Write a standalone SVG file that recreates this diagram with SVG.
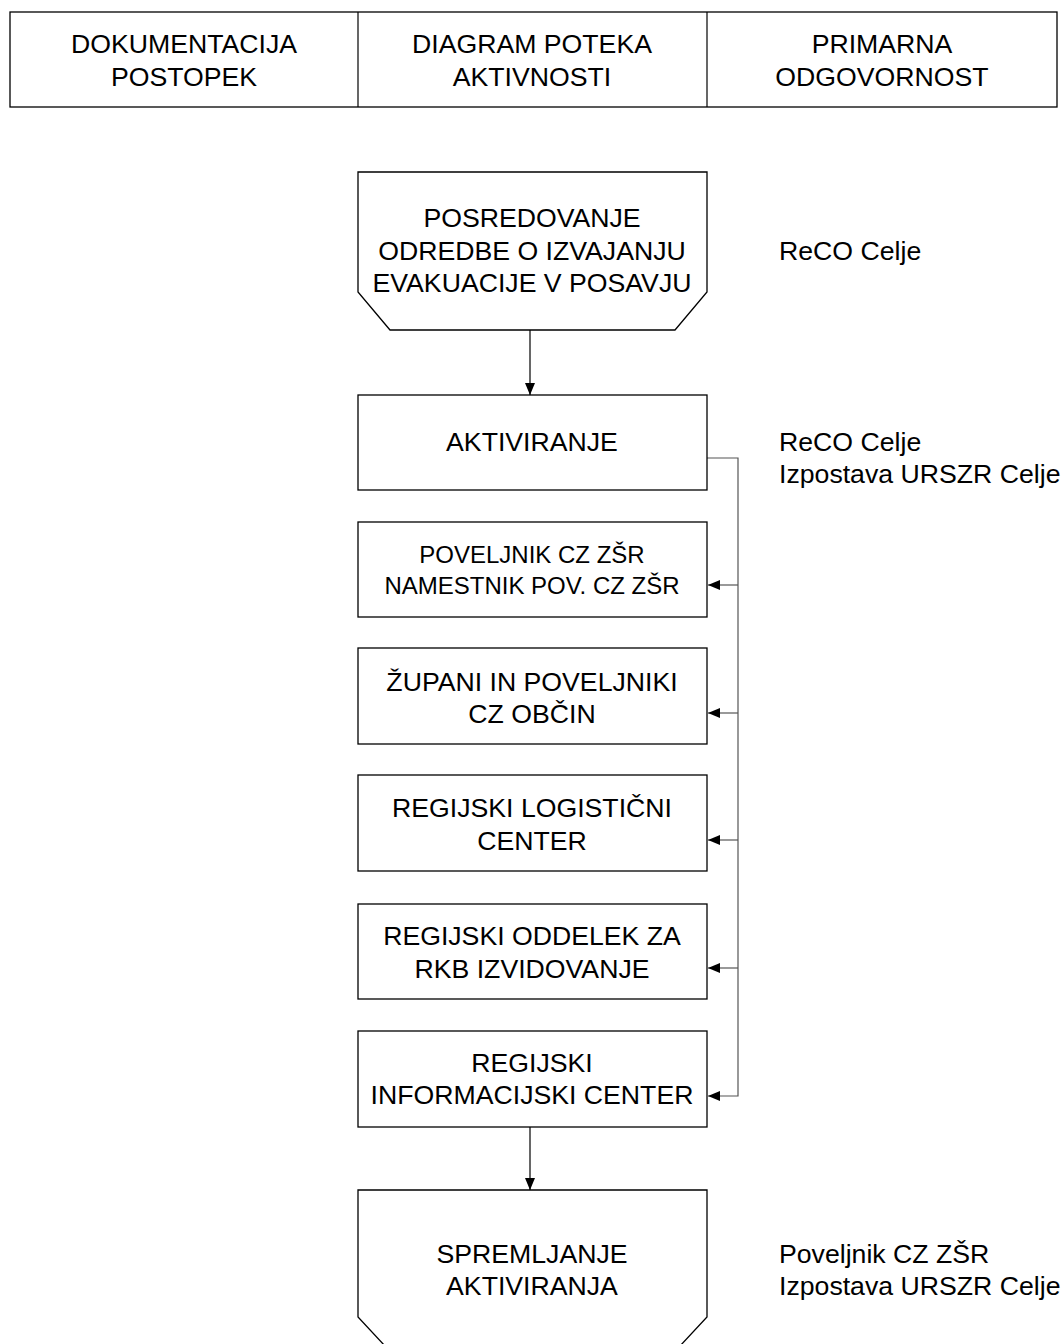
<svg xmlns="http://www.w3.org/2000/svg" width="1064" height="1344" viewBox="0 0 1064 1344">
<style>
.box{fill:#fff;stroke:#000;stroke-width:1.3}
.t{font-family:"Liberation Sans",Arial,sans-serif;font-size:26.67px;fill:#000;text-anchor:middle}
.s{font-size:24px}
.l{font-family:"Liberation Sans",Arial,sans-serif;font-size:26.67px;fill:#000}
.c{fill:none;stroke:#000;stroke-width:1.2}
.g{fill:none;stroke:#555;stroke-width:1.2}
</style>
<defs>
<marker id="ah" markerWidth="12" markerHeight="10" refX="12" refY="5" orient="auto" markerUnits="userSpaceOnUse">
<path d="M0,0 L12,5 L0,10 Z" fill="#000"/>
</marker>
</defs>
<g id="header">
<rect class="box" x="10" y="12" width="1047" height="95"/>
<line class="c" x1="358" y1="12" x2="358" y2="107"/>
<line class="c" x1="707" y1="12" x2="707" y2="107"/>
<text class="t" x="184" y="53">DOKUMENTACIJA</text>
<text class="t" x="184" y="86">POSTOPEK</text>
<text class="t" x="532" y="53">DIAGRAM POTEKA</text>
<text class="t" x="532" y="86">AKTIVNOSTI</text>
<text class="t" x="882" y="53">PRIMARNA</text>
<text class="t" x="882" y="86">ODGOVORNOST</text>
</g>
<g id="connectors">
<line class="c" x1="530" y1="330" x2="530" y2="395" marker-end="url(#ah)"/>
<polyline class="g" points="707,458 738,458 738,1096 708,1096" marker-end="url(#ah)"/>
<line class="g" x1="738" y1="585" x2="708" y2="585" marker-end="url(#ah)"/>
<line class="g" x1="738" y1="713" x2="708" y2="713" marker-end="url(#ah)"/>
<line class="g" x1="738" y1="840" x2="708" y2="840" marker-end="url(#ah)"/>
<line class="g" x1="738" y1="968" x2="708" y2="968" marker-end="url(#ah)"/>
<line class="c" x1="530" y1="1127" x2="530" y2="1190" marker-end="url(#ah)"/>
</g>
<g id="n1">
<path class="box" d="M358,172 H707 V292 L675,330 H390 L358,292 Z"/>
<text class="t" x="532" y="227">POSREDOVANJE</text>
<text class="t" x="532" y="260">ODREDBE O IZVAJANJU</text>
<text class="t" x="532" y="292">EVAKUACIJE V POSAVJU</text>
</g>
<g id="n2">
<rect class="box" x="358" y="395" width="349" height="95"/>
<text class="t" x="532" y="451">AKTIVIRANJE</text>
</g>
<g id="n3">
<rect class="box" x="358" y="522" width="349" height="95"/>
<text class="t s" x="532" y="563">POVELJNIK CZ ZŠR</text>
<text class="t s" x="532" y="594">NAMESTNIK POV. CZ ZŠR</text>
</g>
<g id="n4">
<rect class="box" x="358" y="648" width="349" height="96"/>
<text class="t" x="532" y="691">ŽUPANI IN POVELJNIKI</text>
<text class="t" x="532" y="723">CZ OBČIN</text>
</g>
<g id="n5">
<rect class="box" x="358" y="775" width="349" height="96"/>
<text class="t" x="532" y="817">REGIJSKI LOGISTIČNI</text>
<text class="t" x="532" y="850">CENTER</text>
</g>
<g id="n6">
<rect class="box" x="358" y="904" width="349" height="95"/>
<text class="t" x="532" y="945">REGIJSKI ODDELEK ZA</text>
<text class="t" x="532" y="978">RKB IZVIDOVANJE</text>
</g>
<g id="n7">
<rect class="box" x="358" y="1031" width="349" height="96"/>
<text class="t" x="532" y="1072">REGIJSKI</text>
<text class="t" x="532" y="1104">INFORMACIJSKI CENTER</text>
</g>
<g id="n8">
<path class="box" d="M358,1190 H707 V1317 L680,1346 H385 L358,1317 Z"/>
<text class="t" x="532" y="1263">SPREMLJANJE</text>
<text class="t" x="532" y="1295">AKTIVIRANJA</text>
</g>
<g id="labels">
<text class="l" x="779" y="260">ReCO Celje</text>
<text class="l" x="779" y="451">ReCO Celje</text>
<text class="l" x="779" y="483">Izpostava URSZR Celje</text>
<text class="l" x="779" y="1263">Poveljnik CZ ZŠR</text>
<text class="l" x="779" y="1295">Izpostava URSZR Celje</text>
</g>
</svg>
